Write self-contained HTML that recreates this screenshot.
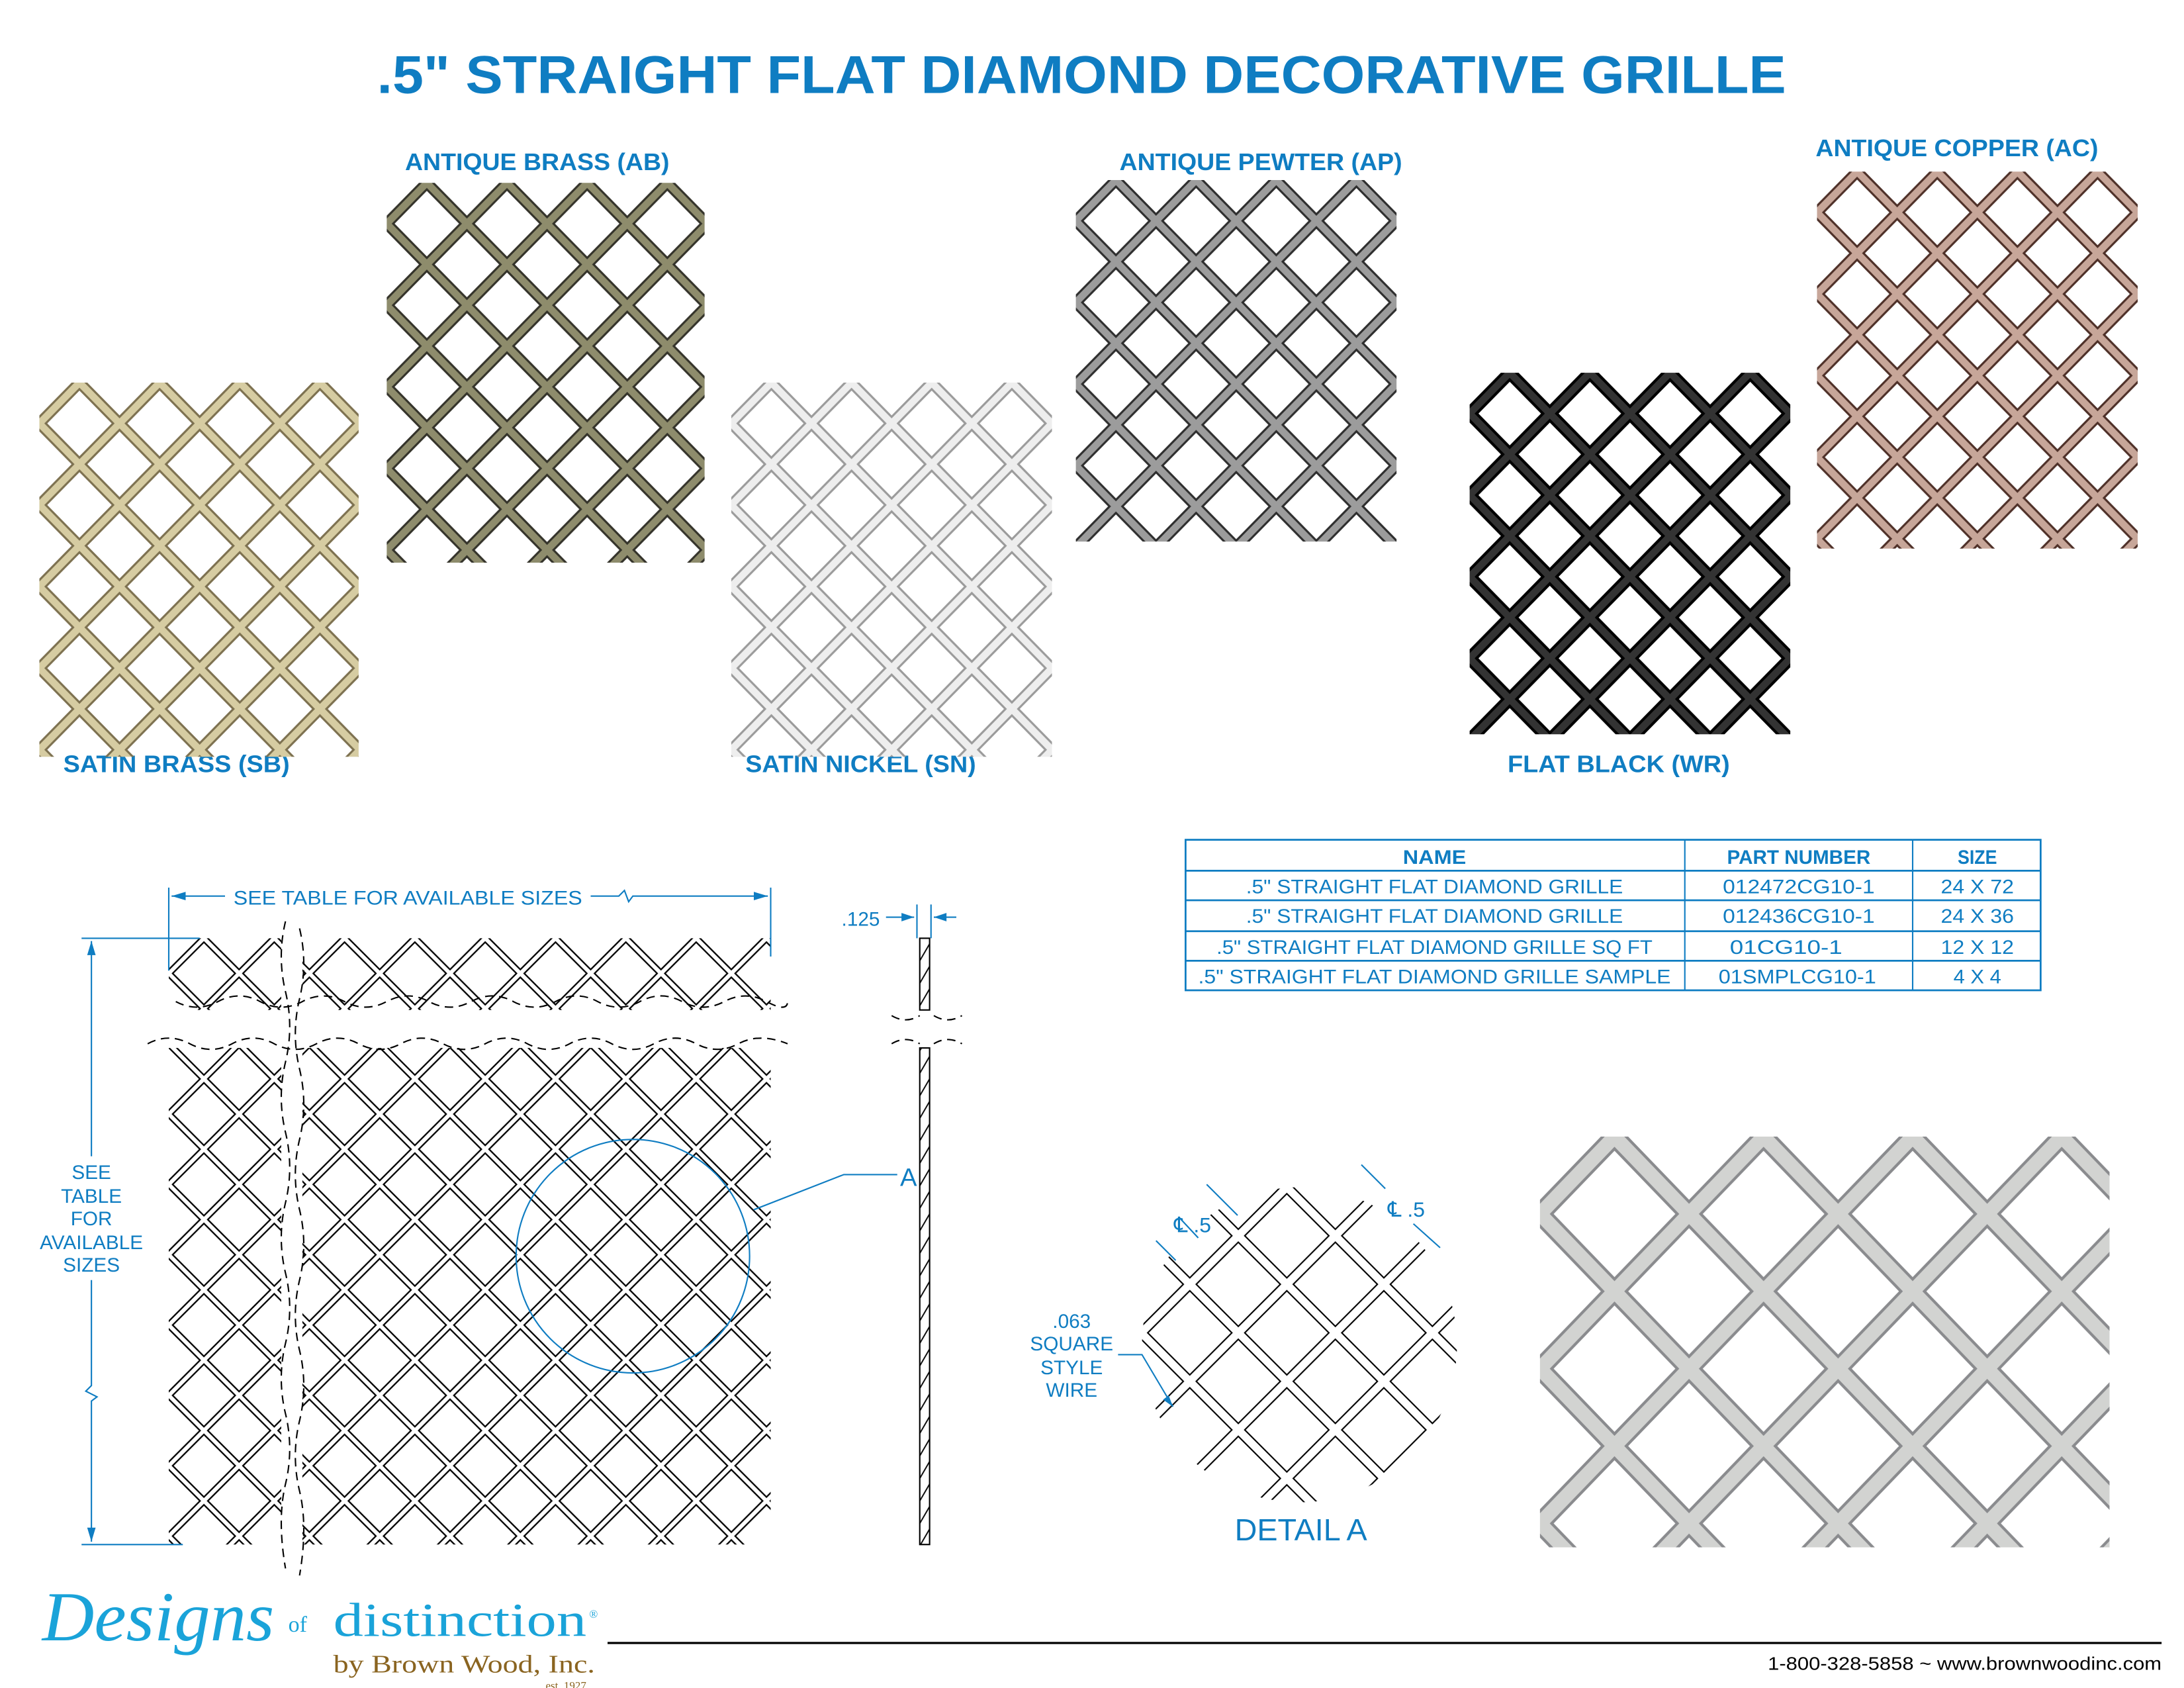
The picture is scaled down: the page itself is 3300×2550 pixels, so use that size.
<!DOCTYPE html>
<html><head><meta charset="utf-8"><style>
html,body{margin:0;padding:0;background:#fff;}
svg{display:block;}
</style></head><body>
<svg xmlns="http://www.w3.org/2000/svg" xmlns:xlink="http://www.w3.org/1999/xlink" width="3300" height="2550" viewBox="0 0 1552.94 1200" font-family="Liberation Sans, sans-serif">
<defs>
<path id="p57" fill="none" d="M-114 -58 L57 116 M-57 -58 L114 116 M0 -58 L171 116 M57 -58 L-114 116 M114 -58 L-57 116 M171 -58 L0 116"/>
<path id="p50" fill="none" d="M-100 -50 L50 100 M-50 -50 L100 100 M0 -50 L150 100 M50 -50 L-100 100 M100 -50 L-50 100 M150 -50 L0 100"/>
<path id="p69" fill="none" d="M-138 -69 L69 138 M-69 -69 L138 138 M0 -69 L207 138 M69 -69 L-138 138 M138 -69 L-69 138 M207 -69 L0 138"/>
<path id="p106" fill="none" d="M-212 -110 L106 220 M-106 -110 L212 220 M0 -110 L318 220 M106 -110 L-212 220 M212 -110 L-106 220 M318 -110 L0 220"/>

<pattern id="t1" patternUnits="userSpaceOnUse" x="56.5" y="272" width="57" height="58"><use href="#p57" xlink:href="#p57" stroke="#7d7150" stroke-width="8"/><use href="#p57" xlink:href="#p57" stroke="#d6cca2" stroke-width="5"/></pattern>
<pattern id="t2" patternUnits="userSpaceOnUse" x="303.5" y="130" width="57" height="58"><use href="#p57" xlink:href="#p57" stroke="#34332a" stroke-width="8"/><use href="#p57" xlink:href="#p57" stroke="#8e8c6c" stroke-width="5"/></pattern>
<pattern id="t3" patternUnits="userSpaceOnUse" x="548.5" y="272" width="57" height="58"><use href="#p57" xlink:href="#p57" stroke="#9b9b9b" stroke-width="8"/><use href="#p57" xlink:href="#p57" stroke="#eeeeee" stroke-width="5"/></pattern>
<pattern id="t4" patternUnits="userSpaceOnUse" x="793.5" y="128" width="57" height="58"><use href="#p57" xlink:href="#p57" stroke="#2e2e2e" stroke-width="8"/><use href="#p57" xlink:href="#p57" stroke="#9c9c9c" stroke-width="5"/></pattern>
<pattern id="t5" patternUnits="userSpaceOnUse" x="1073.5" y="265" width="57" height="58"><use href="#p57" xlink:href="#p57" stroke="#000" stroke-width="9"/><use href="#p57" xlink:href="#p57" stroke="#333" stroke-width="5"/></pattern>
<pattern id="t6" patternUnits="userSpaceOnUse" x="1320.5" y="122" width="57" height="58"><use href="#p57" xlink:href="#p57" stroke="#4e3028" stroke-width="8"/><use href="#p57" xlink:href="#p57" stroke="#c7a699" stroke-width="5"/></pattern>
<pattern id="t7" patternUnits="userSpaceOnUse" x="1148" y="808" width="106" height="110"><use href="#p106" xlink:href="#p106" stroke="#8a8b8e" stroke-width="14"/><use href="#p106" xlink:href="#p106" stroke="#d2d3d1" stroke-width="10"/></pattern>
<pattern id="tD" patternUnits="userSpaceOnUse" x="145" y="667" width="50" height="50"><use href="#p50" xlink:href="#p50" stroke="#000" stroke-width="5"/><use href="#p50" xlink:href="#p50" stroke="#fff" stroke-width="2.8"/></pattern>
<pattern id="tA" patternUnits="userSpaceOnUse" x="846" y="844" width="69" height="69"><use href="#p69" xlink:href="#p69" stroke="#000" stroke-width="7.5"/><use href="#p69" xlink:href="#p69" stroke="#fff" stroke-width="5.5"/></pattern>
<pattern id="tS" patternUnits="userSpaceOnUse" x="654" y="667" width="7" height="16"><path d="M0 16 L7 4" stroke="#000" stroke-width="0.9" fill="none"/></pattern>
</defs>

<text x="769" y="66" text-anchor="middle" font-size="38" font-weight="bold" fill="#0f7dc2" textLength="1002" lengthAdjust="spacingAndGlyphs">.5" STRAIGHT FLAT DIAMOND DECORATIVE GRILLE</text>

<g font-size="17" font-weight="bold" fill="#0f7dc2">
<text x="288" y="121" textLength="188" lengthAdjust="spacingAndGlyphs">ANTIQUE BRASS (AB)</text>
<text x="796" y="121" textLength="201" lengthAdjust="spacingAndGlyphs">ANTIQUE PEWTER (AP)</text>
<text x="1291" y="111" textLength="201" lengthAdjust="spacingAndGlyphs">ANTIQUE COPPER (AC)</text>
<text x="45" y="549" textLength="161" lengthAdjust="spacingAndGlyphs">SATIN BRASS (SB)</text>
<text x="530" y="549" textLength="164" lengthAdjust="spacingAndGlyphs">SATIN NICKEL (SN)</text>
<text x="1072" y="549" textLength="158" lengthAdjust="spacingAndGlyphs">FLAT BLACK (WR)</text>
</g>

<!-- photos -->
<rect x="28" y="272" width="227" height="266" fill="url(#t1)"/>
<rect x="275" y="130" width="226" height="270" fill="url(#t2)"/>
<rect x="520" y="272" width="228" height="266" fill="url(#t3)"/>
<rect x="765" y="128" width="228" height="257" fill="url(#t4)"/>
<rect x="1045" y="265" width="228" height="257" fill="url(#t5)"/>
<rect x="1292" y="122" width="228" height="268" fill="url(#t6)"/>
<rect x="1095" y="808" width="405" height="292" fill="url(#t7)"/>

<!-- technical drawing -->
<g fill="url(#tD)">
<rect x="120" y="667" width="80" height="51"/><rect x="215" y="667" width="333" height="51"/>
<rect x="120" y="745" width="80" height="353"/><rect x="215" y="745" width="333" height="353"/>
</g>
<g fill="none" stroke="#000" stroke-width="1" stroke-dasharray="6,4">
<path d="M125 712 q15 8 30 0 t30 0 t30 0 t30 0 t30 0 t30 0 t30 0 t30 0 t30 0 t30 0 t30 0 t30 0 t30 0 t30 0 t15 0"/>
<path d="M105 742 q15 -8 30 0 t30 0 t30 0 t30 0 t30 0 t30 0 t30 0 t30 0 t30 0 t30 0 t30 0 t30 0 t30 0 t30 0 t35 0"/>
<path d="M203 655 q-6 25 0 50 t0 50 t0 50 t0 50 t0 50 t0 50 t0 50 t0 50 t0 60"/>
<path d="M213 660 q6 25 0 50 t0 50 t0 50 t0 50 t0 50 t0 50 t0 50 t0 50 t0 60"/>
<path d="M634 722 q10 6 20 0 M664 722 q10 6 20 0 M634 742 q10 -6 20 0 M664 742 q10 -6 20 0"/>
</g>
<!-- side strip -->
<rect x="654" y="667" width="7" height="51" fill="url(#tS)" stroke="#000" stroke-width="1"/>
<rect x="654" y="745" width="7" height="353" fill="url(#tS)" stroke="#000" stroke-width="1"/>

<!-- detail A -->
<circle cx="924" cy="956" r="112" fill="url(#tA)"/>

<!-- dimensions -->
<g stroke="#0f7dc2" stroke-width="1" fill="none">
<line x1="120" y1="631" x2="120" y2="690"/><line x1="548" y1="631" x2="548" y2="680"/>
<line x1="122" y1="637" x2="160" y2="637"/><path d="M420 637 H440 l4 -4 l3 8 l3 -4 H546"/>
<line x1="58" y1="667" x2="142" y2="667"/><line x1="58" y1="1098" x2="130" y2="1098"/>
<line x1="65" y1="669" x2="65" y2="822"/><path d="M65 910 V985 l-4 4 l8 4 l-4 3 V1096"/>
<line x1="652" y1="643" x2="652" y2="667"/><line x1="662" y1="643" x2="662" y2="667"/>
<line x1="630" y1="652" x2="650" y2="652"/><line x1="664" y1="652" x2="680" y2="652"/>
<circle cx="450" cy="893" r="83"/>
<path d="M536 860 L600 835 H638"/>
<path d="M795 963 H812 L834 1000"/>
<line x1="822" y1="882" x2="836" y2="896"/><line x1="838" y1="865" x2="852" y2="880"/>
<line x1="858" y1="842" x2="880" y2="864"/><line x1="968" y1="828" x2="985" y2="845"/>
<line x1="1005" y1="870" x2="1024" y2="887"/>
</g>
<g fill="#0f7dc2">
<path d="M122 637 l10 -3 v6z"/><path d="M546 637 l-10 -3 v6z"/>
<path d="M65 669 l-3 10 h6z"/><path d="M65 1096 l-3 -10 h6z"/>
<path d="M650 652 l-9 -3 v6z"/><path d="M664 652 l9 -3 v6z"/>
<path d="M834 1000 l-7 -5 l4 -3z"/>
</g>
<g fill="#0f7dc2" font-size="14" text-anchor="middle">
<text x="290" y="643" textLength="248" lengthAdjust="spacingAndGlyphs">SEE TABLE FOR AVAILABLE SIZES</text>
<text x="65" y="838">SEE</text><text x="65" y="855">TABLE</text><text x="65" y="871">FOR</text><text x="65" y="888">AVAILABLE</text><text x="65" y="904">SIZES</text>
<text x="612" y="658">.125</text>
<text x="646" y="843" font-size="18">A</text>
<text x="762" y="944">.063</text><text x="762" y="960">SQUARE</text><text x="762" y="977">STYLE</text><text x="762" y="993">WIRE</text>
<text x="848" y="876" font-size="15">℄ .5</text>
<text x="1000" y="865" font-size="15">℄ .5</text>
<text x="925" y="1095" font-size="22">DETAIL A</text>
</g>

<!-- table -->
<g stroke="#0f7dc2" fill="none">
<rect x="843" y="597" width="608" height="107" stroke-width="1.3"/>
<line x1="843" y1="619" x2="1451" y2="619" stroke-width="1.3"/>
<line x1="843" y1="640" x2="1451" y2="640" stroke-width="1.3"/>
<line x1="843" y1="662" x2="1451" y2="662" stroke-width="1.3"/>
<line x1="843" y1="683" x2="1451" y2="683" stroke-width="1.3"/>
<line x1="1198" y1="597" x2="1198" y2="704"/>
<line x1="1360" y1="597" x2="1360" y2="704"/>
</g>
<g fill="#0f7dc2" font-size="14" text-anchor="middle">
<text x="1020" y="614" font-weight="bold" textLength="45" lengthAdjust="spacingAndGlyphs">NAME</text>
<text x="1279" y="614" font-weight="bold" textLength="102" lengthAdjust="spacingAndGlyphs">PART NUMBER</text>
<text x="1406" y="614" font-weight="bold" textLength="28" lengthAdjust="spacingAndGlyphs">SIZE</text>
<text x="1020" y="635" textLength="268" lengthAdjust="spacingAndGlyphs">.5" STRAIGHT FLAT DIAMOND GRILLE</text>
<text x="1279" y="635" textLength="108" lengthAdjust="spacingAndGlyphs">012472CG10-1</text>
<text x="1406" y="635" textLength="52" lengthAdjust="spacingAndGlyphs">24 X 72</text>
<text x="1020" y="656" textLength="268" lengthAdjust="spacingAndGlyphs">.5" STRAIGHT FLAT DIAMOND GRILLE</text>
<text x="1279" y="656" textLength="108" lengthAdjust="spacingAndGlyphs">012436CG10-1</text>
<text x="1406" y="656" textLength="52" lengthAdjust="spacingAndGlyphs">24 X 36</text>
<text x="1020" y="678" textLength="310" lengthAdjust="spacingAndGlyphs">.5" STRAIGHT FLAT DIAMOND GRILLE SQ FT</text>
<text x="1270" y="678" textLength="80" lengthAdjust="spacingAndGlyphs">01CG10-1</text>
<text x="1406" y="678" textLength="52" lengthAdjust="spacingAndGlyphs">12 X 12</text>
<text x="1020" y="699" textLength="336" lengthAdjust="spacingAndGlyphs">.5" STRAIGHT FLAT DIAMOND  GRILLE SAMPLE</text>
<text x="1278" y="699" textLength="112" lengthAdjust="spacingAndGlyphs">01SMPLCG10-1</text>
<text x="1406" y="699" textLength="34" lengthAdjust="spacingAndGlyphs">4 X 4</text>
</g>

<!-- footer -->
<g font-family="Liberation Serif, serif">
<text x="30" y="1166" font-style="italic" font-size="50" fill="#1aa3d9" textLength="165" lengthAdjust="spacingAndGlyphs">Designs</text>
<text x="205" y="1160" font-size="16" fill="#1aa3d9">of</text>
<text x="237" y="1163" font-size="34" fill="#1aa3d9" textLength="180" lengthAdjust="spacingAndGlyphs">distinction</text>
<text x="419" y="1150" font-size="8" fill="#1aa3d9">®</text>
<text x="237" y="1189" font-size="18" fill="#8a6420" textLength="186" lengthAdjust="spacingAndGlyphs">by Brown Wood, Inc.</text>
<text x="388" y="1201" font-size="8" fill="#8a6420">est. 1927</text>
</g>
<line x1="432" y1="1168" x2="1537" y2="1168" stroke="#000" stroke-width="1.5"/>
<text x="1537" y="1187" text-anchor="end" font-size="13" fill="#000" textLength="280" lengthAdjust="spacingAndGlyphs">1-800-328-5858 ~ www.brownwoodinc.com</text>
</svg>
</body></html>
